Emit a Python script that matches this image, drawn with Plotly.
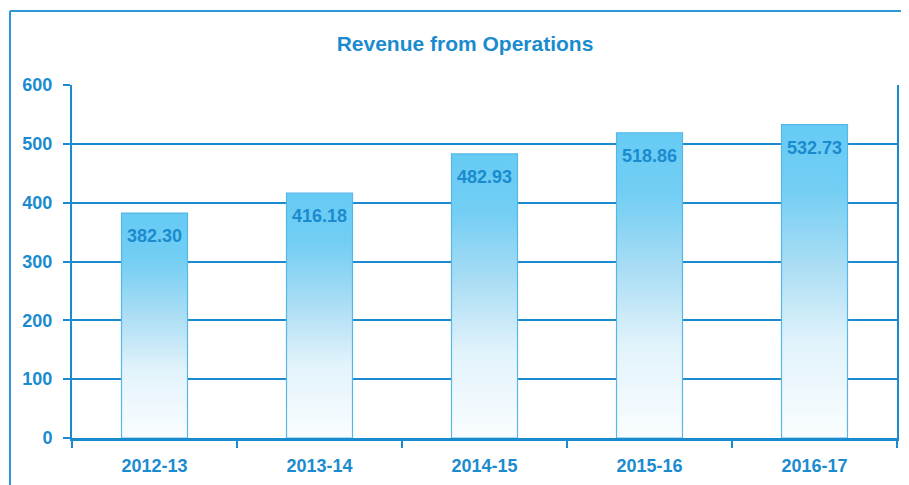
import plotly.graph_objects as go

years = ["2012-13", "2013-14", "2014-15", "2015-16", "2016-17"]
revenue = [382.30, 416.18, 482.93, 518.86, 532.73]
y_ticks = [0, 100, 200, 300, 400, 500, 600]

BLUE = "#1B8BCF"
FONT = "Liberation Sans, Arial, Helvetica, sans-serif"
BAR_W = 0.4

# page body has an 8px margin; figure is sized so plot area lands where wanted
OFF = 8
FIG_W, FIG_H = 901, 477
PL, PT, PW, PH = 72, 85, 825, 353  # plot area in window pixels

fig = go.Figure()

for i, v in enumerate(revenue):
    x0, x1 = i - BAR_W / 2, i + BAR_W / 2
    fig.add_trace(go.Scatter(
        x=[x0, x0, x1, x1, x0],
        y=[0, v, v, 0, 0],
        mode="lines",
        fill="toself",
        fillgradient=dict(
            type="vertical",
            start=0,
            stop=v,
            colorscale=[
                [0.0, "#FAFDFF"],
                [0.3, "#E2F3FB"],
                [0.55, "#AADDF4"],
                [0.8, "#72CEF4"],
                [1.0, "#66CBF4"],
            ],
        ),
        line=dict(color="#56B6E8", width=1.2),
        hoverinfo="skip",
        showlegend=False,
    ))

for i, v in enumerate(revenue):
    fig.add_annotation(
        x=i, y=v, text=f"{v:.2f}", showarrow=False,
        yanchor="middle", yshift=-23,
        font=dict(family=FONT, size=18, color=BLUE, weight="bold"),
    )

# outer frame (left and top edges; the rest runs off the page)
fx0 = (10 - PL) / PW
fy1 = (PT + PH - 11) / PH
fig.add_shape(type="line", xref="paper", yref="paper",
              x0=fx0, x1=(960 - PL) / PW, y0=fy1, y1=fy1,
              line=dict(color="#2A97D6", width=2), layer="below")
fig.add_shape(type="line", xref="paper", yref="paper",
              x0=fx0, x1=fx0, y0=(PT + PH - 540) / PH, y1=fy1,
              line=dict(color="#2A97D6", width=2), layer="below")

fig.update_layout(
    width=FIG_W, height=FIG_H,
    margin=dict(l=PL - OFF, r=FIG_W - (PL - OFF) - PW, t=PT - OFF,
                b=FIG_H - (PT - OFF) - PH, autoexpand=False),
    paper_bgcolor="white", plot_bgcolor="white",
    title=dict(
        text="Revenue from Operations",
        x=(465 - OFF) / FIG_W, xanchor="center",
        y=1 - (44 - OFF) / FIG_H, yanchor="middle",
        font=dict(family=FONT, size=21, color=BLUE, weight="bold"),
    ),
    xaxis=dict(
        range=[-0.5, len(years) - 0.5],
        tickmode="array", tickvals=list(range(len(years))), ticktext=years,
        ticks="", showgrid=False, zeroline=False,
        showline=True, linecolor=BLUE, linewidth=2.5,
        tickfont=dict(family=FONT, size=18, color=BLUE, weight="bold"),
        ticklabelstandoff=10,
        minor=dict(
            tickmode="array",
            tickvals=[k - 0.5 for k in range(len(years) + 1)],
            ticks="outside", ticklen=7, tickwidth=2, tickcolor=BLUE,
            showgrid=False,
        ),
    ),
    yaxis=dict(
        range=[0, 600], tickmode="array", tickvals=y_ticks,
        ticks="outside", ticklen=7, tickwidth=2, tickcolor=BLUE,
        showline=True, linecolor=BLUE, linewidth=2, mirror=True,
        showgrid=True, gridcolor=BLUE, gridwidth=2,
        zeroline=False,
        tickfont=dict(family=FONT, size=18, color=BLUE, weight="bold"),
        ticklabelstandoff=7,
    ),
)

fig.write_html("out.html")
